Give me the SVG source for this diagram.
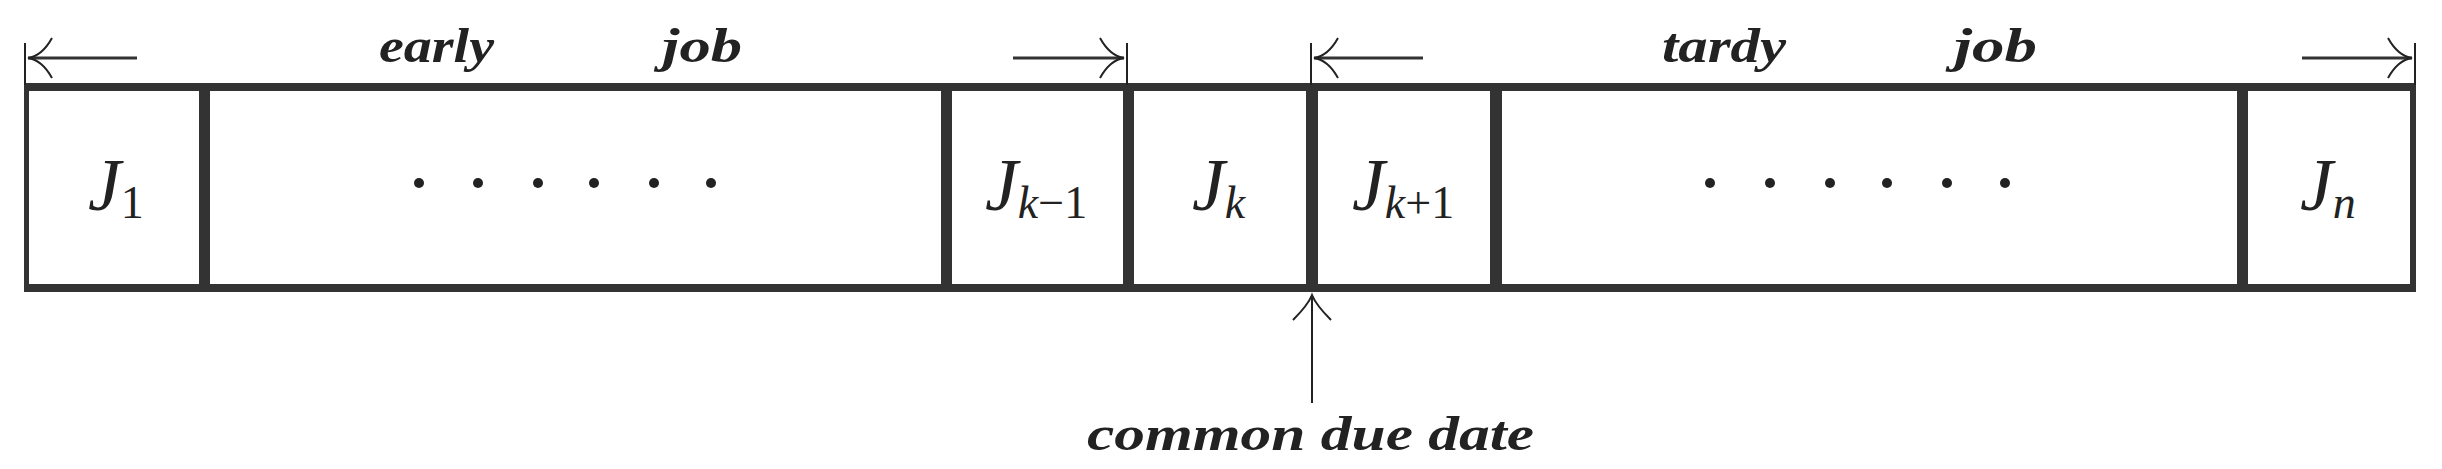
<svg xmlns="http://www.w3.org/2000/svg" width="2442" height="469" viewBox="0 0 2442 469">
<style>
.t{font-family:"Liberation Serif",serif;font-style:italic;fill:#222}
.lbl{font-size:48px;font-weight:bold}
.j{font-size:74px}
.s{font-size:46px}
.thin{stroke:#222;stroke-width:2;fill:none}
.ah{stroke:#333;stroke-width:3;fill:none}
.bar{fill:#333}
</style>
<rect width="2442" height="469" fill="#fff"/>
<g id="frame">
<rect class="bar" x="24" y="83" width="2392" height="8"/>
<rect class="bar" x="24" y="284" width="2392" height="8"/>
<rect class="bar" x="24" y="83" width="5" height="209"/>
<rect class="bar" x="2410" y="83" width="6" height="209"/>
</g>
<g id="J1"><text class="t j" x="88" y="210">J<tspan class="s" font-style="normal" dy="8">1</tspan></text></g>
<g id="early-dots" fill="#222"><rect class="bar" x="199" y="83" width="11" height="209"/>
<circle cx="419" cy="183" r="5"/><circle cx="478" cy="183" r="5"/><circle cx="538" cy="183" r="5"/><circle cx="594" cy="183" r="5"/><circle cx="654" cy="183" r="5"/><circle cx="711" cy="183" r="5"/></g>
<g id="Jk-1"><rect class="bar" x="941" y="83" width="11" height="209"/><text class="t j" x="985" y="210">J<tspan class="s" dy="8">k</tspan><tspan class="s" font-style="normal">−1</tspan></text></g>
<g id="Jk"><rect class="bar" x="1123" y="83" width="11" height="209"/><text class="t j" x="1192" y="210">J<tspan class="s" dy="8">k</tspan></text></g>
<g id="Jk+1"><rect class="bar" x="1306" y="83" width="12" height="209"/><text class="t j" x="1352" y="210">J<tspan class="s" dy="8">k</tspan><tspan class="s" font-style="normal">+1</tspan></text></g>
<g id="tardy-dots" fill="#222"><rect class="bar" x="1490" y="83" width="12" height="209"/>
<circle cx="1710" cy="183" r="5"/><circle cx="1770" cy="183" r="5"/><circle cx="1830" cy="183" r="5"/><circle cx="1887" cy="183" r="5"/><circle cx="1947" cy="183" r="5"/><circle cx="2005" cy="183" r="5"/></g>
<g id="Jn"><rect class="bar" x="2237" y="83" width="11" height="209"/><text class="t j" x="2300" y="210">J<tspan class="s" dy="8">n</tspan></text></g>
<g id="labels">
<text class="t lbl" x="379" y="62" textLength="115" lengthAdjust="spacingAndGlyphs">early</text>
<text class="t lbl" x="662" y="62" textLength="80" lengthAdjust="spacingAndGlyphs">job</text>
<text class="t lbl" x="1662" y="62" textLength="124" lengthAdjust="spacingAndGlyphs">tardy</text>
<text class="t lbl" x="1954" y="62" textLength="83" lengthAdjust="spacingAndGlyphs">job</text>
<text class="t lbl" x="1087" y="450" textLength="447" lengthAdjust="spacingAndGlyphs">common  due  date</text>
</g>
<g id="connectors">
<line class="thin" x1="25" y1="43" x2="25" y2="85"/>
<line class="thin" x1="1127" y1="43" x2="1127" y2="85"/>
<line class="thin" x1="1311" y1="43" x2="1311" y2="85"/>
<line class="thin" x1="2415" y1="43" x2="2415" y2="85"/>
<line class="ah" x1="28" y1="58" x2="137" y2="58"/><path class="thin" d="M52 38 Q42 56 28 58 Q42 60 52 78"/>
<line class="ah" x1="1013" y1="58" x2="1124" y2="58"/><path class="thin" d="M1100 38 Q1110 56 1124 58 Q1110 60 1100 78"/>
<line class="ah" x1="1314" y1="58" x2="1423" y2="58"/><path class="thin" d="M1338 38 Q1328 56 1314 58 Q1328 60 1338 78"/>
<line class="ah" x1="2302" y1="58" x2="2412" y2="58"/><path class="thin" d="M2388 38 Q2398 56 2412 58 Q2398 60 2388 78"/>
<line class="thin" x1="1312" y1="295" x2="1312" y2="403"/><path class="thin" d="M1293 320 Q1308 305 1312 295 Q1316 305 1331 320"/>
</g>
</svg>
